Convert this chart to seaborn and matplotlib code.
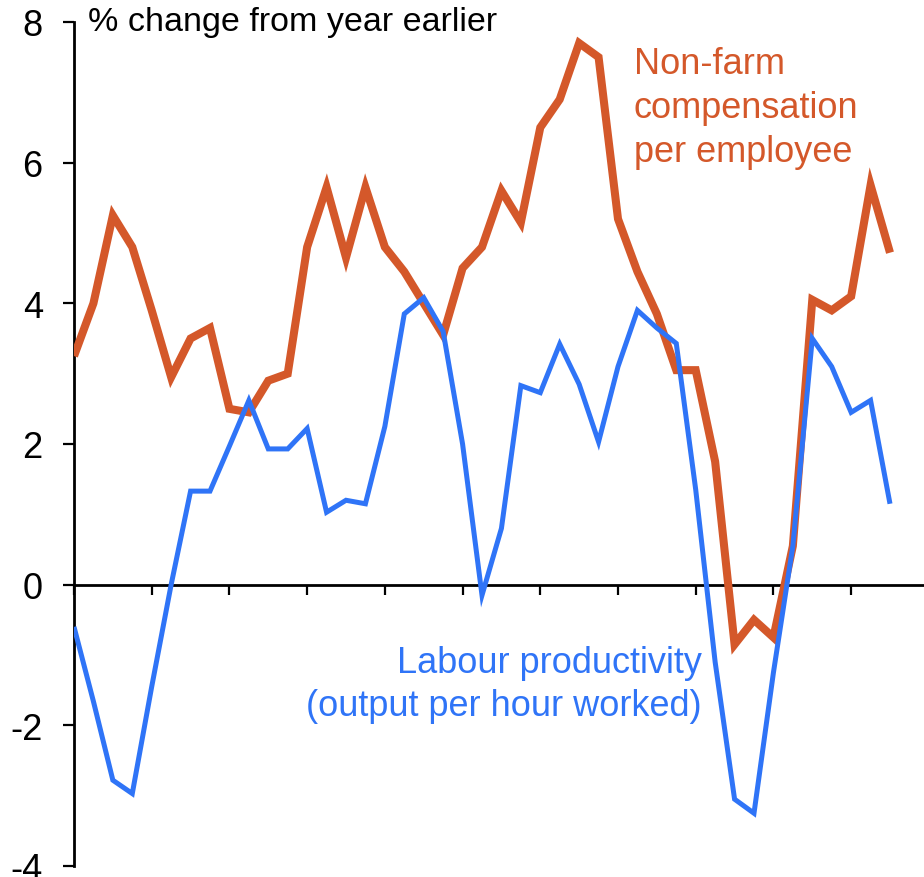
import numpy as np
import pandas as pd
import matplotlib
matplotlib.use("Agg")
import matplotlib.pyplot as plt
import seaborn as sns

# ================= DATA (quarterly, % change from year earlier) =================
compensation = [
    3.25, 4.0, 5.25, 4.8, 3.9, 2.95, 3.5, 3.65, 2.5, 2.45, 2.9,
    3.0, 4.8, 5.65, 4.65, 5.65, 4.8, 4.45, 4.0, 3.55, 4.5, 4.8,
    5.6, 5.15, 6.5, 6.9, 7.7, 7.5, 5.2, 4.45, 3.85, 3.05, 3.05,
    1.75, -0.85, -0.5, -0.75, 0.55, 4.05, 3.9, 4.1, 5.68, 4.72,
]
productivity = [
    -0.6, -1.66, -2.78, -2.97, -1.45, 0.0, 1.33, 1.33, 1.97, 2.62, 1.93,
    1.93, 2.22, 1.03, 1.2, 1.15, 2.25, 3.85, 4.08, 3.6, 2.0, -0.15,
    0.8, 2.83, 2.73, 3.42, 2.85, 2.03, 3.1, 3.9, 3.65, 3.43, 1.35,
    -1.1, -3.05, -3.25, -1.25, 0.55, 3.5, 3.1, 2.45, 2.62, 1.15,
]
quarters = np.arange(len(compensation))
y_ticks = [-4, -2, 0, 2, 4, 6, 8]
year_ticks = np.arange(0, 44, 4)

df = pd.DataFrame({"quarter": quarters,
                   "compensation": compensation,
                   "productivity": productivity})

# ================= STYLE =================
sns.set_style("white")
plt.rcParams["font.family"] = ["Liberation Sans", "DejaVu Sans"]

ORANGE = "#d4582a"
BLUE = "#2f74f7"
FS = 24.5      # header
FS_LAB = 26    # series labels / tick labels

fig = plt.figure(figsize=(9.24, 8.78), dpi=100)
ax = fig.add_axes([74 / 924, 1 - 867 / 878, 850 / 924, 844 / 878])

sns.lineplot(data=df, x="quarter", y="compensation", ax=ax, color=ORANGE,
             linewidth=5.8, solid_joinstyle="miter", solid_capstyle="butt")
sns.lineplot(data=df, x="quarter", y="productivity", ax=ax, color=BLUE,
             linewidth=3.6, solid_joinstyle="miter", solid_capstyle="butt")

ax.set_xlim(0, 43.75)
ax.set_ylim(-4, 8)
ax.set_xlabel("")
ax.set_ylabel("")

# axes: y on the left, x through zero
for side in ["top", "right"]:
    ax.spines[side].set_visible(False)
ax.spines["bottom"].set_position(("data", 0))
for side in ["left", "bottom"]:
    ax.spines[side].set_linewidth(2)
    ax.spines[side].set_color("black")
    ax.spines[side].set_zorder(1)

ax.set_yticks(y_ticks)
ax.set_yticklabels([str(v) for v in y_ticks])
ax.set_xticks(year_ticks)
ax.set_xticklabels([])
ax.tick_params(axis="y", direction="out", length=8, width=1.6,
               labelsize=FS_LAB, pad=14.5, colors="black", left=True)
ax.tick_params(axis="x", direction="out", length=7.5, width=1.6,
               bottom=True, colors="black")

# ================= LABELS =================
ax.text(0.72, 7.886, "% change from year earlier", fontsize=FS,
        color="black", va="baseline", ha="left")
ax.text(28.8, 6.02, "Non-farm\ncompensation\nper employee", fontsize=FS_LAB,
        color=ORANGE, va="baseline", ha="left", linespacing=1.34)
ax.text(32.3, -1.86, "Labour productivity\n(output per hour worked)",
        fontsize=FS_LAB, color=BLUE, va="baseline", ha="right",
        multialignment="right", linespacing=1.33)

plt.savefig("out.png", dpi=100)
